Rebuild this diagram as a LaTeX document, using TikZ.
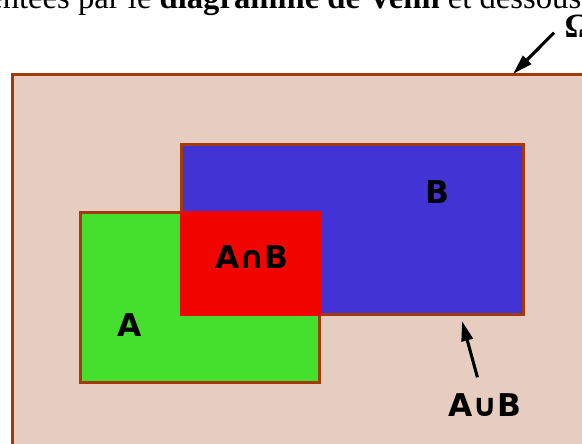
\documentclass[tikz,border=0pt]{standalone}
\usepackage{fontspec}
\setmainfont{Liberation Serif}
\newfontfamily\ensfont{DejaVu Sans}
\usetikzlibrary{arrows.meta,positioning}
\definecolor{fond}{RGB}{230,205,192}
\definecolor{bord}{RGB}{163,58,10}
\definecolor{bleu}{RGB}{65,51,212}
\definecolor{vert}{RGB}{69,224,46}
\definecolor{rouge}{RGB}{242,5,0}

\begin{document}
\begin{tikzpicture}[x=0.75pt,y=-0.75pt,
    ens/.style={draw=bord,line width=2.25pt,rectangle,inner sep=0pt},
    lbl/.style={font=\ensfont\bfseries\fontsize{23.5}{28}\selectfont},
    fleche/.style={-{Triangle[length=15pt,width=8.5pt]},line width=2.3pt}]
\useasboundingbox (0,0) rectangle (582,443);
\clip (0,0) rectangle (582,443);
% univers et ensembles
\node[ens,fill=fond,minimum width=456pt,minimum height=304pt] (Omega) at (316,277) {};
\node[ens,fill=bleu,minimum width=256.5pt,minimum height=127.5pt] (B) at (352,229) {};
\node[ens,fill=vert,minimum width=179.25pt,minimum height=127.5pt] (A) at (199.5,297) {};
\fill[rouge] (B.west |- A.north) rectangle (A.east |- B.south);
% textes
\node[anchor=base east,font=\fontsize{24.5}{29}\selectfont] (titre) at (586,8)
    {représentées par le \textbf{diagramme de Venn} et dessous};
\node[anchor=base west,font=\bfseries\fontsize{25.5}{30}\selectfont] (labO) at (560,37) {Ω};
\node[lbl] (labB) at (437,192) {B};
\node[lbl] (labAB) at (252,257) {A∩B};
\node[lbl] (labA) at (130,325) {A};
\node[lbl] (labU) at (485,405) {A∪B};
% fleches
\coordinate (otip) at (513,74);
\coordinate (utip) at (462,321);
\draw[fleche] ([shift={(-6,7)}]labO.west) -- (otip);
\draw[fleche,shorten <=9pt] (labU) -- (utip);
\end{tikzpicture}
\end{document}
